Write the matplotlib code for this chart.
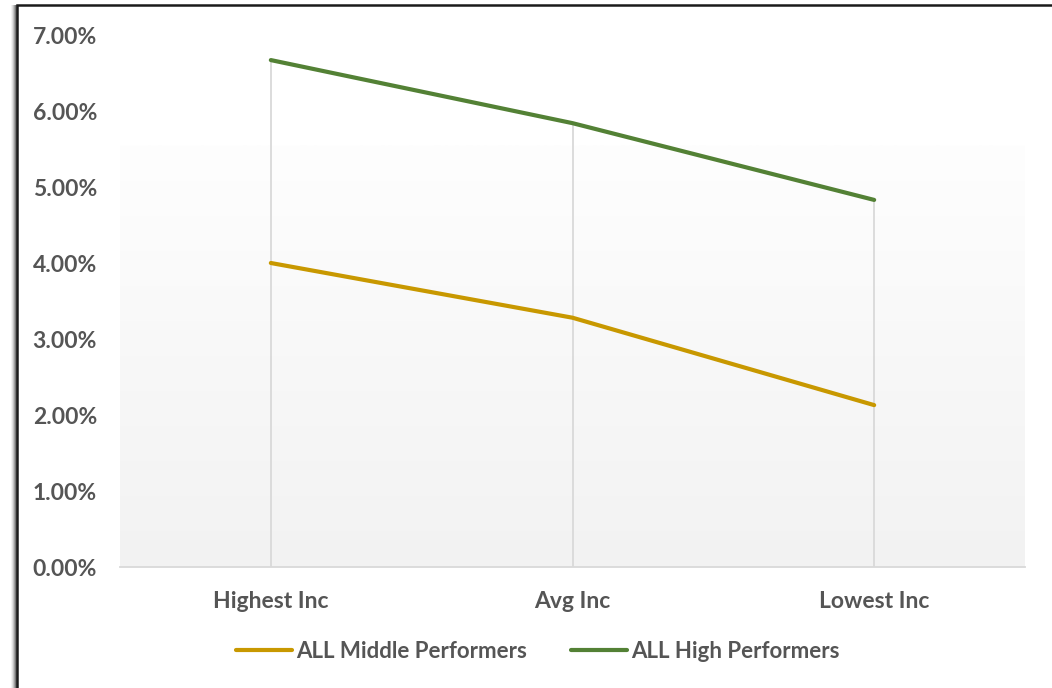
import matplotlib
matplotlib.use("Agg")
import matplotlib.pyplot as plt
import numpy as np
from matplotlib.patches import Rectangle
from matplotlib.ticker import FuncFormatter

categories = ["Highest Inc", "Avg Inc", "Lowest Inc"]
middle_performers = [0.0400, 0.0328, 0.0213]
high_performers = [0.0667, 0.0584, 0.0483]
series_names = ["ALL Middle Performers", "ALL High Performers"]

GOLD = "#C89800"
GREEN = "#538135"
TEXT = "#555555"
GRID = "#D9D9D9"

plt.rcParams["font.family"] = ["Lato", "DejaVu Sans"]

W, H = 1052, 688
fig = plt.figure(figsize=(W / 100, H / 100), dpi=100)
fig.patch.set_facecolor("white")

# outer chart frame with a soft shadow on the left
for i, a in enumerate([0.05, 0.08, 0.12, 0.18, 0.26]):
    off = (6 - i) / W
    fig.patches.append(Rectangle((17 / W - off, -0.1), 0.02, 1.1 - 5 / H,
                                 transform=fig.transFigure, facecolor="black",
                                 edgecolor="none", alpha=a, zorder=0))
fig.patches.append(Rectangle((17 / W, -0.1), 1.0, 1.1 - 5 / H, transform=fig.transFigure,
                             facecolor="white", edgecolor="#1a1a1a", linewidth=1.8, zorder=1))

left, right = 120 / W, 1025 / W
bottom, top = (H - 567) / H, (H - 35) / H
ax = fig.add_axes([left, bottom, right - left, top - bottom])
ax.set_zorder(2)
ax.patch.set_alpha(0)

x = np.arange(len(categories))

# plot-area gradient fill
grad = np.linspace(0, 1, 256).reshape(-1, 1)
cmap = matplotlib.colors.LinearSegmentedColormap.from_list("bg", ["#F2F2F2", "#FEFEFE"])
ax.imshow(grad, extent=(0, 1, 0, (567 - 145) / 532), transform=ax.transAxes,
          aspect="auto", cmap=cmap, origin="lower", zorder=0)

# drop lines from the highest point down to the axis
tops = np.maximum(middle_performers, high_performers)
ax.vlines(x, 0, tops, colors=GRID, linewidth=1.3, zorder=1)

l1, = ax.plot(x, middle_performers, color=GOLD, linewidth=3.0, solid_capstyle="round",
              solid_joinstyle="round", zorder=3)
l2, = ax.plot(x, high_performers, color=GREEN, linewidth=3.0, solid_capstyle="round",
              solid_joinstyle="round", zorder=3)

ax.set_xlim(-0.5, 2.5)
ax.set_ylim(0, 0.07)
ax.set_yticks(np.arange(0, 0.0701, 0.01))
ax.yaxis.set_major_formatter(FuncFormatter(lambda v, p: f"{v * 100:.2f}%"))
ax.set_xticks(x)
ax.set_xticklabels(categories)

for s in ["top", "right", "left"]:
    ax.spines[s].set_visible(False)
ax.spines["bottom"].set_color(GRID)
ax.spines["bottom"].set_linewidth(1.3)
ax.tick_params(axis="both", length=0, labelcolor=TEXT, labelsize=16.5)
ax.tick_params(axis="y", pad=16.5)
ax.tick_params(axis="x", pad=17)
for lab in ax.get_xticklabels() + ax.get_yticklabels():
    lab.set_fontweight("bold")

leg = fig.legend([l1, l2], series_names, loc="center", ncol=2,
                 bbox_to_anchor=(538 / W, 1 - 651 / H), frameon=False,
                 handlelength=2.5, handletextpad=0.2, columnspacing=2.0,
                 prop={"size": 16, "weight": "bold"})
for t in leg.get_texts():
    t.set_color(TEXT)

fig.savefig("out.png", dpi=100)
